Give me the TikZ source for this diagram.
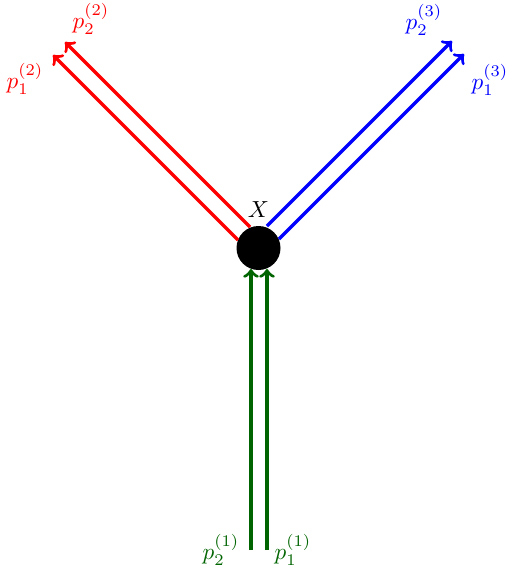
\documentclass[tikz,border=0pt]{standalone}
\usetikzlibrary{positioning}
\definecolor{darkgreen}{RGB}{0,100,0}
\tikzset{
  leg/.style={line width=1.4pt,->},
  vertexdot/.style={circle,fill=black,inner sep=0pt,minimum size=44*0.43pt},
}
\begin{document}
\begin{tikzpicture}[x=0.43pt,y=0.43pt,yscale=-1,xscale=1]
	\useasboundingbox (0,0) rectangle (507,571);
	
	%Vertex
	\node[vertexdot] (v) at (258.5,248) {};
	\node[above=0pt of v] (xlab) {$X$};
	
	%Incoming legs
	\coordinate (g2s) at (251,550);
	\coordinate (g1s) at (267,550);
	\coordinate (g2e) at (251,269);
	\coordinate (g1e) at (267,269);
	\draw[leg,darkgreen] (g2s) -- (g2e);
	\draw[leg,darkgreen] (g1s) -- (g1e);
	
	%Outgoing legs, left
	\coordinate (r1s) at (238,240);
	\coordinate (r2s) at (250,227);
	\coordinate (r1e) at (53,55);
	\coordinate (r2e) at (65,42);
	\draw[leg,red] (r1s) -- (r1e);
	\draw[leg,red] (r2s) -- (r2e);
	
	%Outgoing legs, right
	\coordinate (b2s) at (267,226);
	\coordinate (b1s) at (279,239);
	\coordinate (b2e) at (452,41);
	\coordinate (b1e) at (464,54);
	\draw[leg,blue] (b2s) -- (b2e);
	\draw[leg,blue] (b1s) -- (b1e);
	
	% Text Node
	\node[darkgreen] (g2lab) at (221,550) {$p_{2}^{(1)}$};
	\node[darkgreen] (g1lab) at (293,550) {$p_{1}^{(1)}$};
	\node[red] (r1lab) at (25,79) {$p_{1}^{(2)}$};
	\node[red] (r2lab) at (91,19) {$p_{2}^{(2)}$};
	\node[blue] (b2lab) at (424,20) {$p_{2}^{(3)}$};
	\node[blue] (b1lab) at (490,80) {$p_{1}^{(3)}$};
	
\end{tikzpicture}
\end{document}
